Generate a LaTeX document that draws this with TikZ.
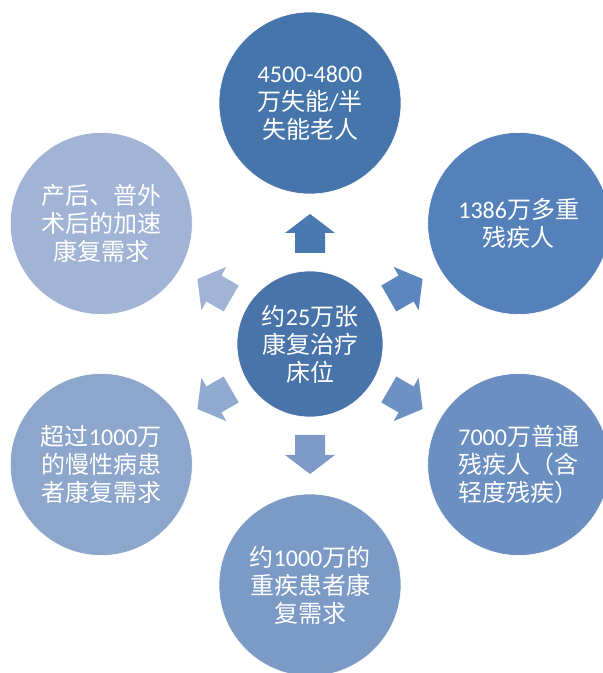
\documentclass[tikz,border=0pt]{standalone}
\usepackage{fontspec}
\setmainfont{Carlito}
\newfontfamily\cjk{Noto Sans CJK SC}
\newcommand\lat[1]{{\rmfamily #1}}
\definecolor{c0}{HTML}{4874AA}
\definecolor{c1}{HTML}{4675AB}
\definecolor{c2}{HTML}{5481BA}
\definecolor{c3}{HTML}{6A8FC0}
\definecolor{c4}{HTML}{7C9AC6}
\definecolor{c5}{HTML}{8DA6CC}
\definecolor{c6}{HTML}{A1B4D5}
\definecolor{a1}{HTML}{4A79B2}
\definecolor{a2}{HTML}{5B86BE}
\definecolor{a3}{HTML}{6C91C2}
\definecolor{a4}{HTML}{7E9BC8}
\definecolor{a5}{HTML}{90A9CF}
\definecolor{a6}{HTML}{A1B4D5}
\begin{document}
\begin{tikzpicture}[x=1pt,y=1pt,
  bub/.style={circle, minimum size=182pt, inner sep=0pt, fill=#1, draw=white, line width=0.6pt,
    text=white, align=center, font=\cjk\fontsize{24}{28}\selectfont},
  blockarrow/.pic={\fill (91,-15) -- (111,-15) -- (111,-25) -- (130,0) -- (111,25) -- (111,15) -- (91,15) -- cycle;},
]
\useasboundingbox (0,0) rectangle (603,673);
\coordinate (c) at (310,329);
\node[bub=c0, minimum size=146pt] (mid) at (c) {约\lat{25}万张\\康复治疗\\床位};
\node[bub=c1] (n1) at ([shift={(90:241)}]c) {\lat{4500-4800}\\万失能\lat{/}半\\失能老人};
\node[bub=c2] (n2) at ([shift={(30:241)}]c) {\lat{1386}万多重\\残疾人};
\node[bub=c3] (n3) at ([shift={(-30:241)}]c) {\lat{7000}万普通\\残疾人（含\\轻度残疾）};
\node[bub=c4] (n4) at ([shift={(-90:241)}]c) {约\lat{1000}万的\\重疾患者康\\复需求};
\node[bub=c5] (n5) at ([shift={(210:241)}]c) {超过\lat{1000}万\\的慢性病患\\者康复需求};
\node[bub=c6] (n6) at ([shift={(150:241)}]c) {产后、普外\\术后的加速\\康复需求};
\pic[fill=a1, rotate=90] at (c) {blockarrow};
\pic[fill=a2, rotate=30] at (c) {blockarrow};
\pic[fill=a3, rotate=-30] at (c) {blockarrow};
\pic[fill=a4, rotate=-90] at (c) {blockarrow};
\pic[fill=a5, rotate=210] at (c) {blockarrow};
\pic[fill=a6, rotate=150] at (c) {blockarrow};
\end{tikzpicture}
\end{document}
